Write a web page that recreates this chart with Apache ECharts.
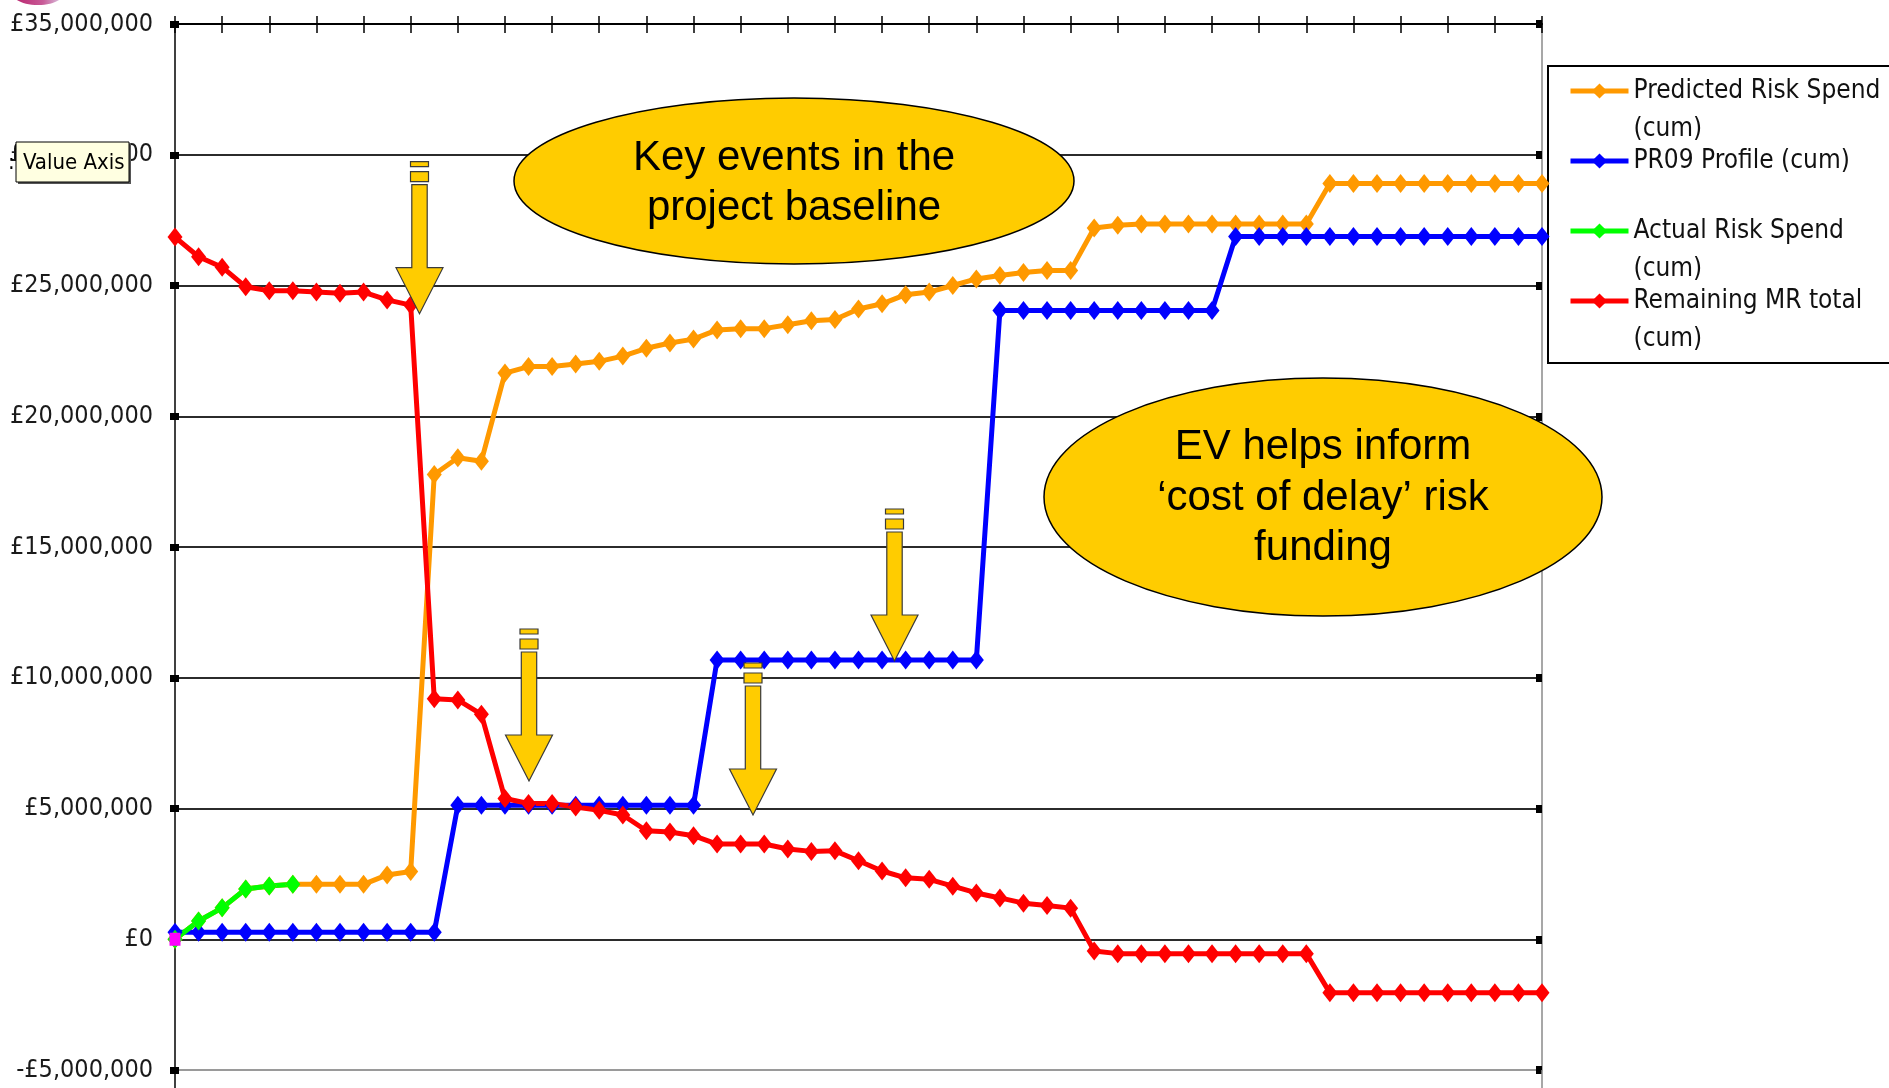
<!DOCTYPE html>
<html>
<head>
<meta charset="utf-8">
<script src="https://cdn.jsdelivr.net/npm/echarts@6/dist/echarts.min.js"></script>
<style>
  html, body { margin: 0; padding: 0; background: #ffffff; }
  #chart { width: 1889px; height: 1088px; }
</style>
</head>
<body>
<div id="chart"></div>
<script>
// Reporting periods (the category axis carries no labels)
const periods = Array.from({ length: 59 }, (_, i) => 'P' + (i + 1));

// Cumulative figures, in £ millions
const predictedRiskSpend = [
  0, 0.7, 1.2, 1.92, 2.04, 2.1, 2.1, 2.1, 2.1, 2.46,
  2.59, 17.77, 18.41, 18.28, 21.65, 21.9, 21.9, 22.0, 22.1, 22.3,
  22.6, 22.8, 22.95, 23.3, 23.35, 23.35, 23.5, 23.65, 23.7, 24.1,
  24.3, 24.65, 24.75, 25.0, 25.25, 25.38, 25.5, 25.57, 25.57, 27.2,
  27.3, 27.35, 27.35, 27.35, 27.35, 27.35, 27.35, 27.35, 27.35, 28.9,
  28.9, 28.9, 28.9, 28.9, 28.9, 28.9, 28.9, 28.9, 28.9
];
const pr09Profile = [
  0.27, 0.27, 0.27, 0.27, 0.27, 0.27, 0.27, 0.27, 0.27, 0.27,
  0.27, 0.27, 5.12, 5.12, 5.12, 5.12, 5.12, 5.12, 5.12, 5.12,
  5.12, 5.12, 5.12, 10.68, 10.68, 10.68, 10.68, 10.68, 10.68, 10.68,
  10.68, 10.68, 10.68, 10.68, 10.68, 24.04, 24.04, 24.04, 24.04, 24.04,
  24.04, 24.04, 24.04, 24.04, 24.04, 26.87, 26.87, 26.87, 26.87, 26.87,
  26.87, 26.87, 26.87, 26.87, 26.87, 26.87, 26.87, 26.87, 26.87
];
const actualRiskSpend = [0, 0.7, 1.2, 1.92, 2.04, 2.1];
const remainingMRTotal = [
  26.85, 26.1, 25.7, 24.95, 24.8, 24.8, 24.75, 24.7, 24.75, 24.45,
  24.25, 9.2, 9.15, 8.6, 5.38, 5.19, 5.19, 5.06, 4.93, 4.75,
  4.15, 4.1, 3.96, 3.64, 3.64, 3.64, 3.45, 3.36, 3.38, 3.0,
  2.61, 2.35, 2.29, 2.03, 1.77, 1.58, 1.38, 1.29, 1.19, -0.45,
  -0.55, -0.55, -0.55, -0.55, -0.55, -0.55, -0.55, -0.55, -0.55, -2.05,
  -2.05, -2.05, -2.05, -2.05, -2.05, -2.05, -2.05, -2.05, -2.05
];
const openingPoint = [0];

// Value axis range (£ millions)
const yMin = -5, yMax = 35, yStep = 5;

const seriesNames = [
  'Predicted Risk Spend (cum)',
  'PR09 Profile (cum)',
  'Actual Risk Spend (cum)',
  'Remaining MR total (cum)'
];
const legendText = {
  'Predicted Risk Spend (cum)': ['Predicted Risk Spend', '(cum)'],
  'PR09 Profile (cum)': ['PR09 Profile (cum)', ' '],
  'Actual Risk Spend (cum)': ['Actual Risk Spend', '(cum)'],
  'Remaining MR total (cum)': ['Remaining MR total', '(cum)']
};
const seriesColors = ['#FF9900', '#0000FF', '#00FF00', '#FF0000'];

const UI_FONT = '"DejaVu Sans Condensed", "Liberation Sans Narrow", "DejaVu Sans", sans-serif';
const CALLOUT_FONT = '"Liberation Sans", Arial, sans-serif';

function pounds(v) {
  const n = String(Math.round(Math.abs(v) * 1e6)).replace(/\B(?=(\d{3})+(?!\d))/g, ',');
  return (v < 0 ? '-£' : '£') + n;
}

function lineSeries(name, data, color) {
  return {
    name: name,
    type: 'line',
    data: data,
    symbol: 'diamond',
    symbolSize: [15, 19],
    showAllSymbol: true,
    lineStyle: { color: color, width: 5 },
    itemStyle: { color: color, borderWidth: 0 },
    emphasis: { disabled: true },
    animation: false
  };
}

// Down-arrow call-outs: centre x and top y of each arrow
const arrowSpots = [[419.5, 161.7], [529, 629], [753, 663], [894.5, 509]];
function arrowGraphics(cx, top) {
  const fill = '#FFCC00', stroke = '#3a3a3a';
  return [
    { type: 'rect', z: 12, shape: { x: cx - 9, y: top, width: 18, height: 5 },
      style: { fill: fill, stroke: stroke, lineWidth: 1.2 } },
    { type: 'rect', z: 12, shape: { x: cx - 9, y: top + 10, width: 18, height: 10 },
      style: { fill: fill, stroke: stroke, lineWidth: 1.2 } },
    { type: 'polygon', z: 12, shape: { points: [
        [cx - 7.7, top + 23], [cx + 7.7, top + 23], [cx + 7.7, top + 106],
        [cx + 23.5, top + 106], [cx, top + 152], [cx - 23.5, top + 106],
        [cx - 7.7, top + 106]
      ] },
      style: { fill: fill, stroke: stroke, lineWidth: 1.2 } }
  ];
}

const graphics = [
  // legend frame
  { type: 'rect', z: 1, shape: { x: 1548, y: 66, width: 360, height: 297 },
    style: { fill: '#ffffff', stroke: '#000000', lineWidth: 2 } },
  // axis lines running on below the last gridline
  { type: 'line', z: 3, shape: { x1: 175, y1: 1070, x2: 175, y2: 1088 },
    style: { stroke: '#000000', lineWidth: 1.5 } },
  { type: 'line', z: 3, shape: { x1: 1542, y1: 1070, x2: 1542, y2: 1088 },
    style: { stroke: '#8a8a8a', lineWidth: 1.5 } },
  // corner of a logo peeking in at the top left
  { type: 'ellipse', z: 3, shape: { cx: 38, cy: -7, rx: 26, ry: 12 },
    style: { fill: new echarts.graphic.LinearGradient(0, 0, 1, 0, [
      { offset: 0, color: '#B8206A' }, { offset: 0.6, color: '#C85C98' }, { offset: 1, color: '#DCD2EA' }
    ]) } },
  // call-out ellipses
  { type: 'ellipse', z: 10, shape: { cx: 794, cy: 181, rx: 280, ry: 83 },
    style: { fill: '#FFCC00', stroke: '#000000', lineWidth: 1.5 } },
  { type: 'text', z: 11, x: 794, y: 183,
    style: { text: 'Key events in the\nproject baseline', fill: '#000000',
      font: '42px ' + CALLOUT_FONT, align: 'center', verticalAlign: 'middle', lineHeight: 50 } },
  { type: 'ellipse', z: 10, shape: { cx: 1323, cy: 497, rx: 279, ry: 119 },
    style: { fill: '#FFCC00', stroke: '#000000', lineWidth: 1.5 } },
  { type: 'text', z: 11, x: 1323, y: 498,
    style: { text: 'EV helps inform\n\u2018cost of delay\u2019 risk\nfunding', fill: '#000000',
      font: '42px ' + CALLOUT_FONT, align: 'center', verticalAlign: 'middle', lineHeight: 50.5 } },
  // hover tip over the value axis
  { type: 'rect', z: 19, shape: { x: 18, y: 144, width: 113, height: 40 },
    style: { fill: '#555555' } },
  { type: 'rect', z: 20, shape: { x: 16, y: 142, width: 113, height: 40 },
    style: { fill: '#FFFFE1', stroke: '#000000', lineWidth: 1 } },
  { type: 'text', z: 21, x: 23, y: 163,
    style: { text: 'Value Axis', fill: '#000000', font: '22px ' + UI_FONT,
      align: 'left', verticalAlign: 'middle' } },
  { type: 'text', z: 21, x: 8, y: 163,
    style: { text: ':', fill: '#000000', font: '22px ' + UI_FONT,
      align: 'left', verticalAlign: 'middle' } }
];
arrowSpots.forEach(function (a) { graphics.push.apply(graphics, arrowGraphics(a[0], a[1])); });

const gridLineColors = ['#9a9a9a', '#2b2b2b', '#2b2b2b', '#2b2b2b', '#2b2b2b', '#2b2b2b', '#2b2b2b', '#2b2b2b', '#2b2b2b'];

const option = {
  backgroundColor: '#ffffff',
  animation: false,
  grid: { left: 175, right: 347, top: 24, bottom: 18, containLabel: false },
  xAxis: [
    {
      type: 'category', data: periods, position: 'top', boundaryGap: false,
      axisLine: { show: true, onZero: false, lineStyle: { color: '#000000', width: 2 } },
      axisTick: { show: true, interval: 1, length: 8, lineStyle: { color: '#000000', width: 1.5 } },
      axisLabel: { show: false },
      splitLine: { show: false }
    },
    {
      type: 'category', data: periods, position: 'top', boundaryGap: false,
      axisLine: { show: false, onZero: false },
      axisTick: { show: true, inside: true, interval: 1, length: 9, lineStyle: { color: '#000000', width: 1.5 } },
      axisLabel: { show: false },
      splitLine: { show: false }
    }
  ],
  yAxis: [
    {
      type: 'value', min: yMin, max: yMax, interval: yStep, position: 'left',
      axisLine: { show: true, onZero: false, lineStyle: { color: '#000000', width: 1.5 } },
      axisTick: { show: true, length: 5, lineStyle: { color: '#000000', width: 7 } },
      axisLabel: { formatter: pounds, color: '#1a1a1a', fontSize: 25, fontFamily: UI_FONT, margin: 22 },
      splitLine: { show: true, lineStyle: { color: gridLineColors, width: 2 } }
    },
    {
      type: 'value', min: yMin, max: yMax, interval: yStep, position: 'right',
      axisLine: { show: true, onZero: false, lineStyle: { color: '#8a8a8a', width: 1.5 } },
      axisTick: { show: true, inside: true, length: 6, lineStyle: { color: '#000000', width: 8 } },
      axisLabel: { show: false },
      splitLine: { show: false }
    },
    {
      type: 'value', min: yMin, max: yMax, interval: yStep, position: 'left',
      axisLine: { show: false, onZero: false },
      axisTick: { show: true, inside: true, length: 4, lineStyle: { color: '#000000', width: 7 } },
      axisLabel: { show: false },
      splitLine: { show: false }
    }
  ],
  legend: {
    data: seriesNames,
    orient: 'vertical',
    left: 1568,
    top: 34,
    padding: 0,
    itemGap: -44,
    itemWidth: 58,
    itemHeight: 19,
    selectedMode: false,
    z: 5,
    lineStyle: { width: 5 },
    formatter: function (name) { return '\n' + legendText[name].join('\n'); },
    textStyle: { color: '#111111', fontSize: 26, fontFamily: UI_FONT, lineHeight: 38 }
  },
  tooltip: { show: false },
  series: [
    lineSeries(seriesNames[0], predictedRiskSpend, seriesColors[0]),
    lineSeries(seriesNames[1], pr09Profile, seriesColors[1]),
    lineSeries(seriesNames[2], actualRiskSpend, seriesColors[2]),
    lineSeries(seriesNames[3], remainingMRTotal, seriesColors[3]),
    {
      name: 'Opening balance',
      type: 'line',
      data: openingPoint,
      symbol: 'rect',
      symbolSize: [11, 13],
      lineStyle: { width: 0 },
      itemStyle: { color: '#FF00FF' },
      emphasis: { disabled: true },
      animation: false
    }
  ],
  graphic: graphics
};

const chart = echarts.init(document.getElementById('chart'), null, { renderer: 'canvas' });
chart.setOption(option);
</script>
</body>
</html>
